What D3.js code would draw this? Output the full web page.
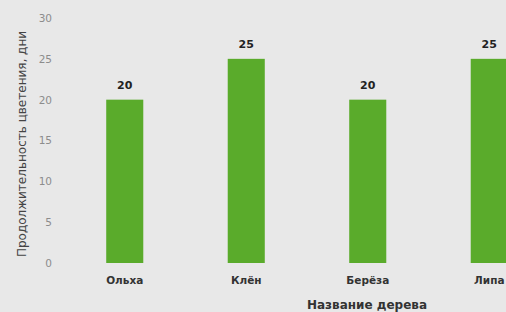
<!DOCTYPE html>
<html>
<head>
<meta charset="utf-8">
<script src="https://cdn.jsdelivr.net/npm/d3@7"></script>
<style>
  body { margin: 0; background: #e8e8e8; overflow: hidden; }
  svg { display: block; font-family: "DejaVu Sans", "Open Sans", sans-serif; }
</style>
</head>
<body>
<svg id="chart" width="506" height="312"></svg>
<script>
// data
const trees = ["Ольха", "Клён", "Берёза", "Липа"];
const days = [20, 25, 20, 25];
const yTicks = [0, 5, 10, 15, 20, 25, 30];

const width = 506, height = 312;
const barColor = "#5aab2b";

const svg = d3.select("#chart");

svg.append("rect")
  .attr("width", width)
  .attr("height", height)
  .attr("fill", "#e8e8e8");

// chart continues past the right edge (cropped), so range goes beyond width
const x = d3.scaleBand()
  .domain(trees)
  .range([64, 550])
  .paddingInner(0.695)
  .paddingOuter(0.3475);

const y = d3.scaleLinear()
  .domain([0, 30])
  .range([263, 18]);

// y axis: labels only, no lines
const yAxis = svg.append("g")
  .attr("transform", "translate(52,0)")
  .call(d3.axisLeft(y).tickValues(yTicks).tickSize(0).tickPadding(0));
yAxis.select(".domain").remove();
yAxis.selectAll("text")
  .attr("fill", "#8c8c8c")
  .style("font-size", "10.5px")
  .style("font-family", "'DejaVu Sans'")
  .style("font-weight", "normal");

// bars
svg.append("g")
  .selectAll("rect")
  .data(days)
  .enter()
  .append("rect")
  .attr("x", (d, i) => x(trees[i]))
  .attr("y", d => y(d))
  .attr("width", x.bandwidth())
  .attr("height", d => y(0) - y(d))
  .attr("fill", barColor);

// value labels
svg.append("g")
  .selectAll("text")
  .data(days)
  .enter()
  .append("text")
  .attr("x", (d, i) => x(trees[i]) + x.bandwidth() / 2)
  .attr("y", d => y(d) - 11)
  .attr("text-anchor", "middle")
  .attr("fill", "#222")
  .style("font-size", "11px")
  .style("font-weight", "bold")
  .text(d => d);

// x axis labels
const xAxis = svg.append("g")
  .attr("transform", "translate(0,277)")
  .call(d3.axisBottom(x).tickSize(0).tickPadding(0));
xAxis.select(".domain").remove();
xAxis.selectAll("text")
  .attr("fill", "#333")
  .style("font-size", "10.5px")
  .style("font-family", "'DejaVu Sans'")
  .style("font-weight", "bold");

// axis titles
svg.append("text")
  .attr("x", 367)
  .attr("y", 309)
  .attr("text-anchor", "middle")
  .attr("fill", "#333")
  .style("font-size", "12px")
  .style("font-weight", "bold")
  .text("Название дерева");

svg.append("text")
  .attr("transform", "translate(26,144) rotate(-90)")
  .attr("text-anchor", "middle")
  .attr("fill", "#444")
  .style("font-size", "12px")
  .text("Продолжительность цветения, дни");
</script>
</body>
</html>
